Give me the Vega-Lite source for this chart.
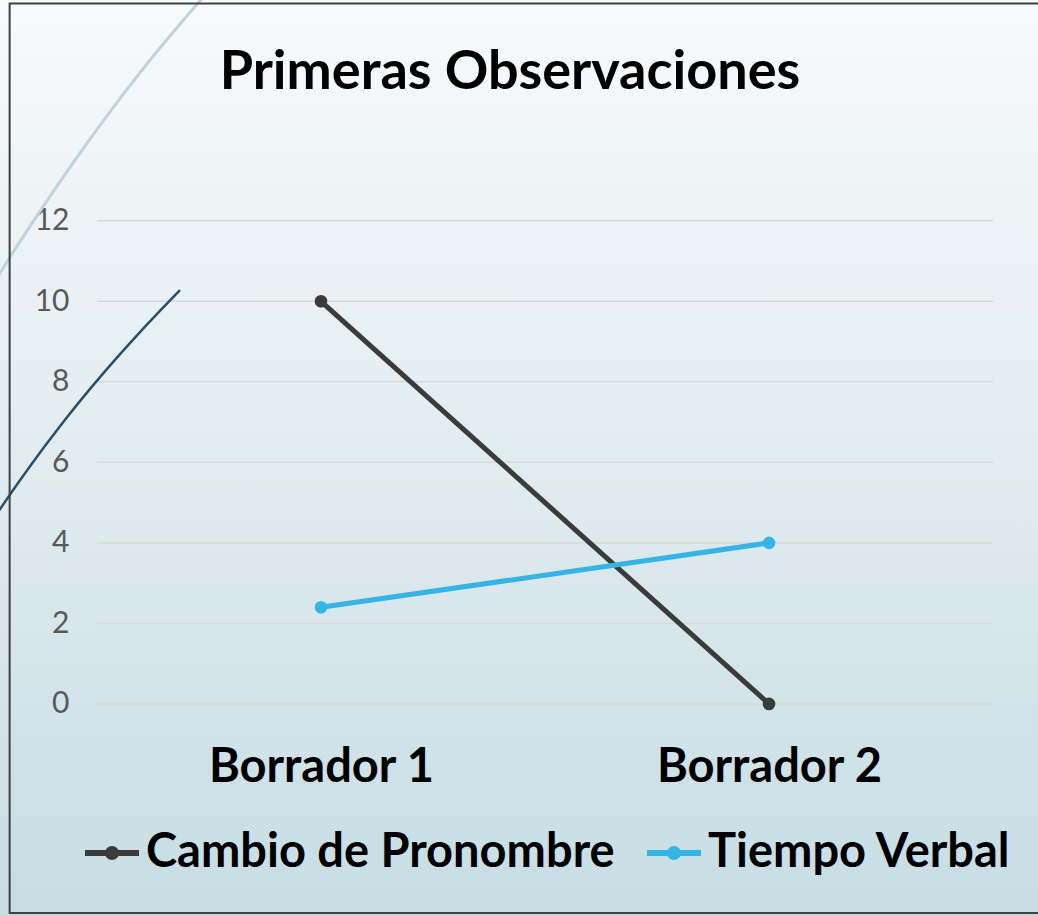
{
  "$schema": "https://vega.github.io/schema/vega-lite/v6.json",
  "width": 1038,
  "height": 915,
  "autosize": {"type": "none"},
  "padding": 0,
  "background": "#dce9ee",
  "config": {
    "view": {
      "stroke": null,
      "fill": {"gradient": "linear", "x1": 0, "y1": 0, "x2": 0, "y2": 1,
        "stops": [{"offset": 0, "color": "#f8fafb"}, {"offset": 0.5, "color": "#e1ecf0"}, {"offset": 1, "color": "#c6dde4"}]}
    },
    "font": "Lato"
  },
  "title": {
    "text": "Primeras Observaciones",
    "fontSize": 54,
    "fontWeight": "bold",
    "color": "#000000",
    "font": "Lato",
    "anchor": "middle",
    "dx": -9,
    "baseline": "alphabetic",
    "offset": -154
  },
  "layer": [
    {
      "data": {"values": [{"v": 0}, {"v": 2}, {"v": 4}, {"v": 6}, {"v": 8}, {"v": 10}, {"v": 12}]},
      "mark": {"type": "rule", "color": "#d9d9d9", "strokeWidth": 1.5},
      "encoding": {
        "y": {"field": "v", "type": "quantitative", "scale": {"domain": [-5.242, 17.483], "nice": false, "zero": false},
          "axis": {"values": [0, 2, 4, 6, 8, 10, 12], "orient": "left", "offset": -97, "domain": false, "ticks": false,
            "grid": false, "labelPadding": 28, "labelFontSize": 30, "labelColor": "#595959", "labelFont": "Lato", "title": null}},
        "x": {"datum": 0.5, "type": "quantitative", "scale": {"domain": [0.2835, 2.6004], "nice": false, "zero": false},
          "axis": {"values": [1, 2], "labelExpr": "'Borrador ' + datum.value", "orient": "bottom", "offset": -211,
            "domain": false, "ticks": false, "grid": false, "labelFontSize": 47, "labelFontWeight": "bold",
            "labelColor": "#000000", "labelPadding": 40, "labelBaseline": "top", "labelFont": "Lato", "labelLimit": 500, "title": null}},
        "x2": {"datum": 2.5}
      }
    },
    {
      "data": {"values": [
        {"i": 1, "cx": 0.2701, "cy": 10.452},
        {"i": 2, "cx": 0.2835, "cy": 10.700},
        {"i": 3, "cx": 0.3728, "cy": 12.241},
        {"i": 4, "cx": 0.4509, "cy": 13.508},
        {"i": 5, "cx": 0.5402, "cy": 14.874},
        {"i": 6, "cx": 0.6295, "cy": 16.141},
        {"i": 7, "cx": 0.7411, "cy": 17.607}
      ]},
      "mark": {"type": "line", "color": "#c3d2d9", "strokeWidth": 3, "interpolate": "monotone"},
      "encoding": {
        "x": {"field": "cx", "type": "quantitative"},
        "y": {"field": "cy", "type": "quantitative"},
        "order": {"field": "i"}
      }
    },
    {
      "data": {"values": [
        {"i": 1, "cx": 0.2701, "cy": 4.613},
        {"i": 2, "cx": 0.2835, "cy": 4.837},
        {"i": 3, "cx": 0.3505, "cy": 5.905},
        {"i": 4, "cx": 0.4174, "cy": 6.899},
        {"i": 5, "cx": 0.5067, "cy": 8.117},
        {"i": 6, "cx": 0.5960, "cy": 9.235},
        {"i": 7, "cx": 0.6853, "cy": 10.278}
      ]},
      "mark": {"type": "line", "color": "#2a4f68", "strokeWidth": 2.5, "interpolate": "monotone"},
      "encoding": {
        "x": {"field": "cx", "type": "quantitative"},
        "y": {"field": "cy", "type": "quantitative"},
        "order": {"field": "i"}
      }
    },
    {
      "data": {"values": [{"f": 1}]},
      "mark": {"type": "rect", "fill": null, "fillOpacity": 0, "stroke": "#404040", "strokeWidth": 2},
      "encoding": {
        "x": {"datum": 0.305, "type": "quantitative"},
        "x2": {"datum": 2.7},
        "y": {"datum": -5.19, "type": "quantitative"},
        "y2": {"datum": 17.396}
      }
    },
    {
      "data": {"values": [
        {"borrador": 1, "serie": "Cambio de Pronombre", "valor": 10},
        {"borrador": 2, "serie": "Cambio de Pronombre", "valor": 0},
        {"borrador": 1, "serie": "Tiempo Verbal", "valor": 2.4},
        {"borrador": 2, "serie": "Tiempo Verbal", "valor": 4}
      ]},
      "mark": {"type": "line", "strokeWidth": 5, "point": {"filled": true, "size": 160}},
      "encoding": {
        "x": {"field": "borrador", "type": "quantitative"},
        "y": {"field": "valor", "type": "quantitative"},
        "color": {"field": "serie", "type": "nominal",
          "scale": {"domain": ["Cambio de Pronombre", "Tiempo Verbal"], "range": ["#3b3b3b", "#36b4e5"]},
          "legend": {"orient": "none", "legendX": 82, "legendY": 823, "direction": "horizontal", "title": null,
            "symbolType": "M-1,0L1,0M0.15,0A0.15,0.15,0,1,1,-0.15,0A0.15,0.15,0,1,1,0.15,0",
            "symbolSize": 2916, "symbolStrokeWidth": 6, "labelFontSize": 47, "labelFontWeight": "bold",
            "labelColor": "#000000", "labelFont": "Lato", "labelOffset": 4, "columnPadding": 20, "labelLimit": 700}}
      }
    }
  ]
}
